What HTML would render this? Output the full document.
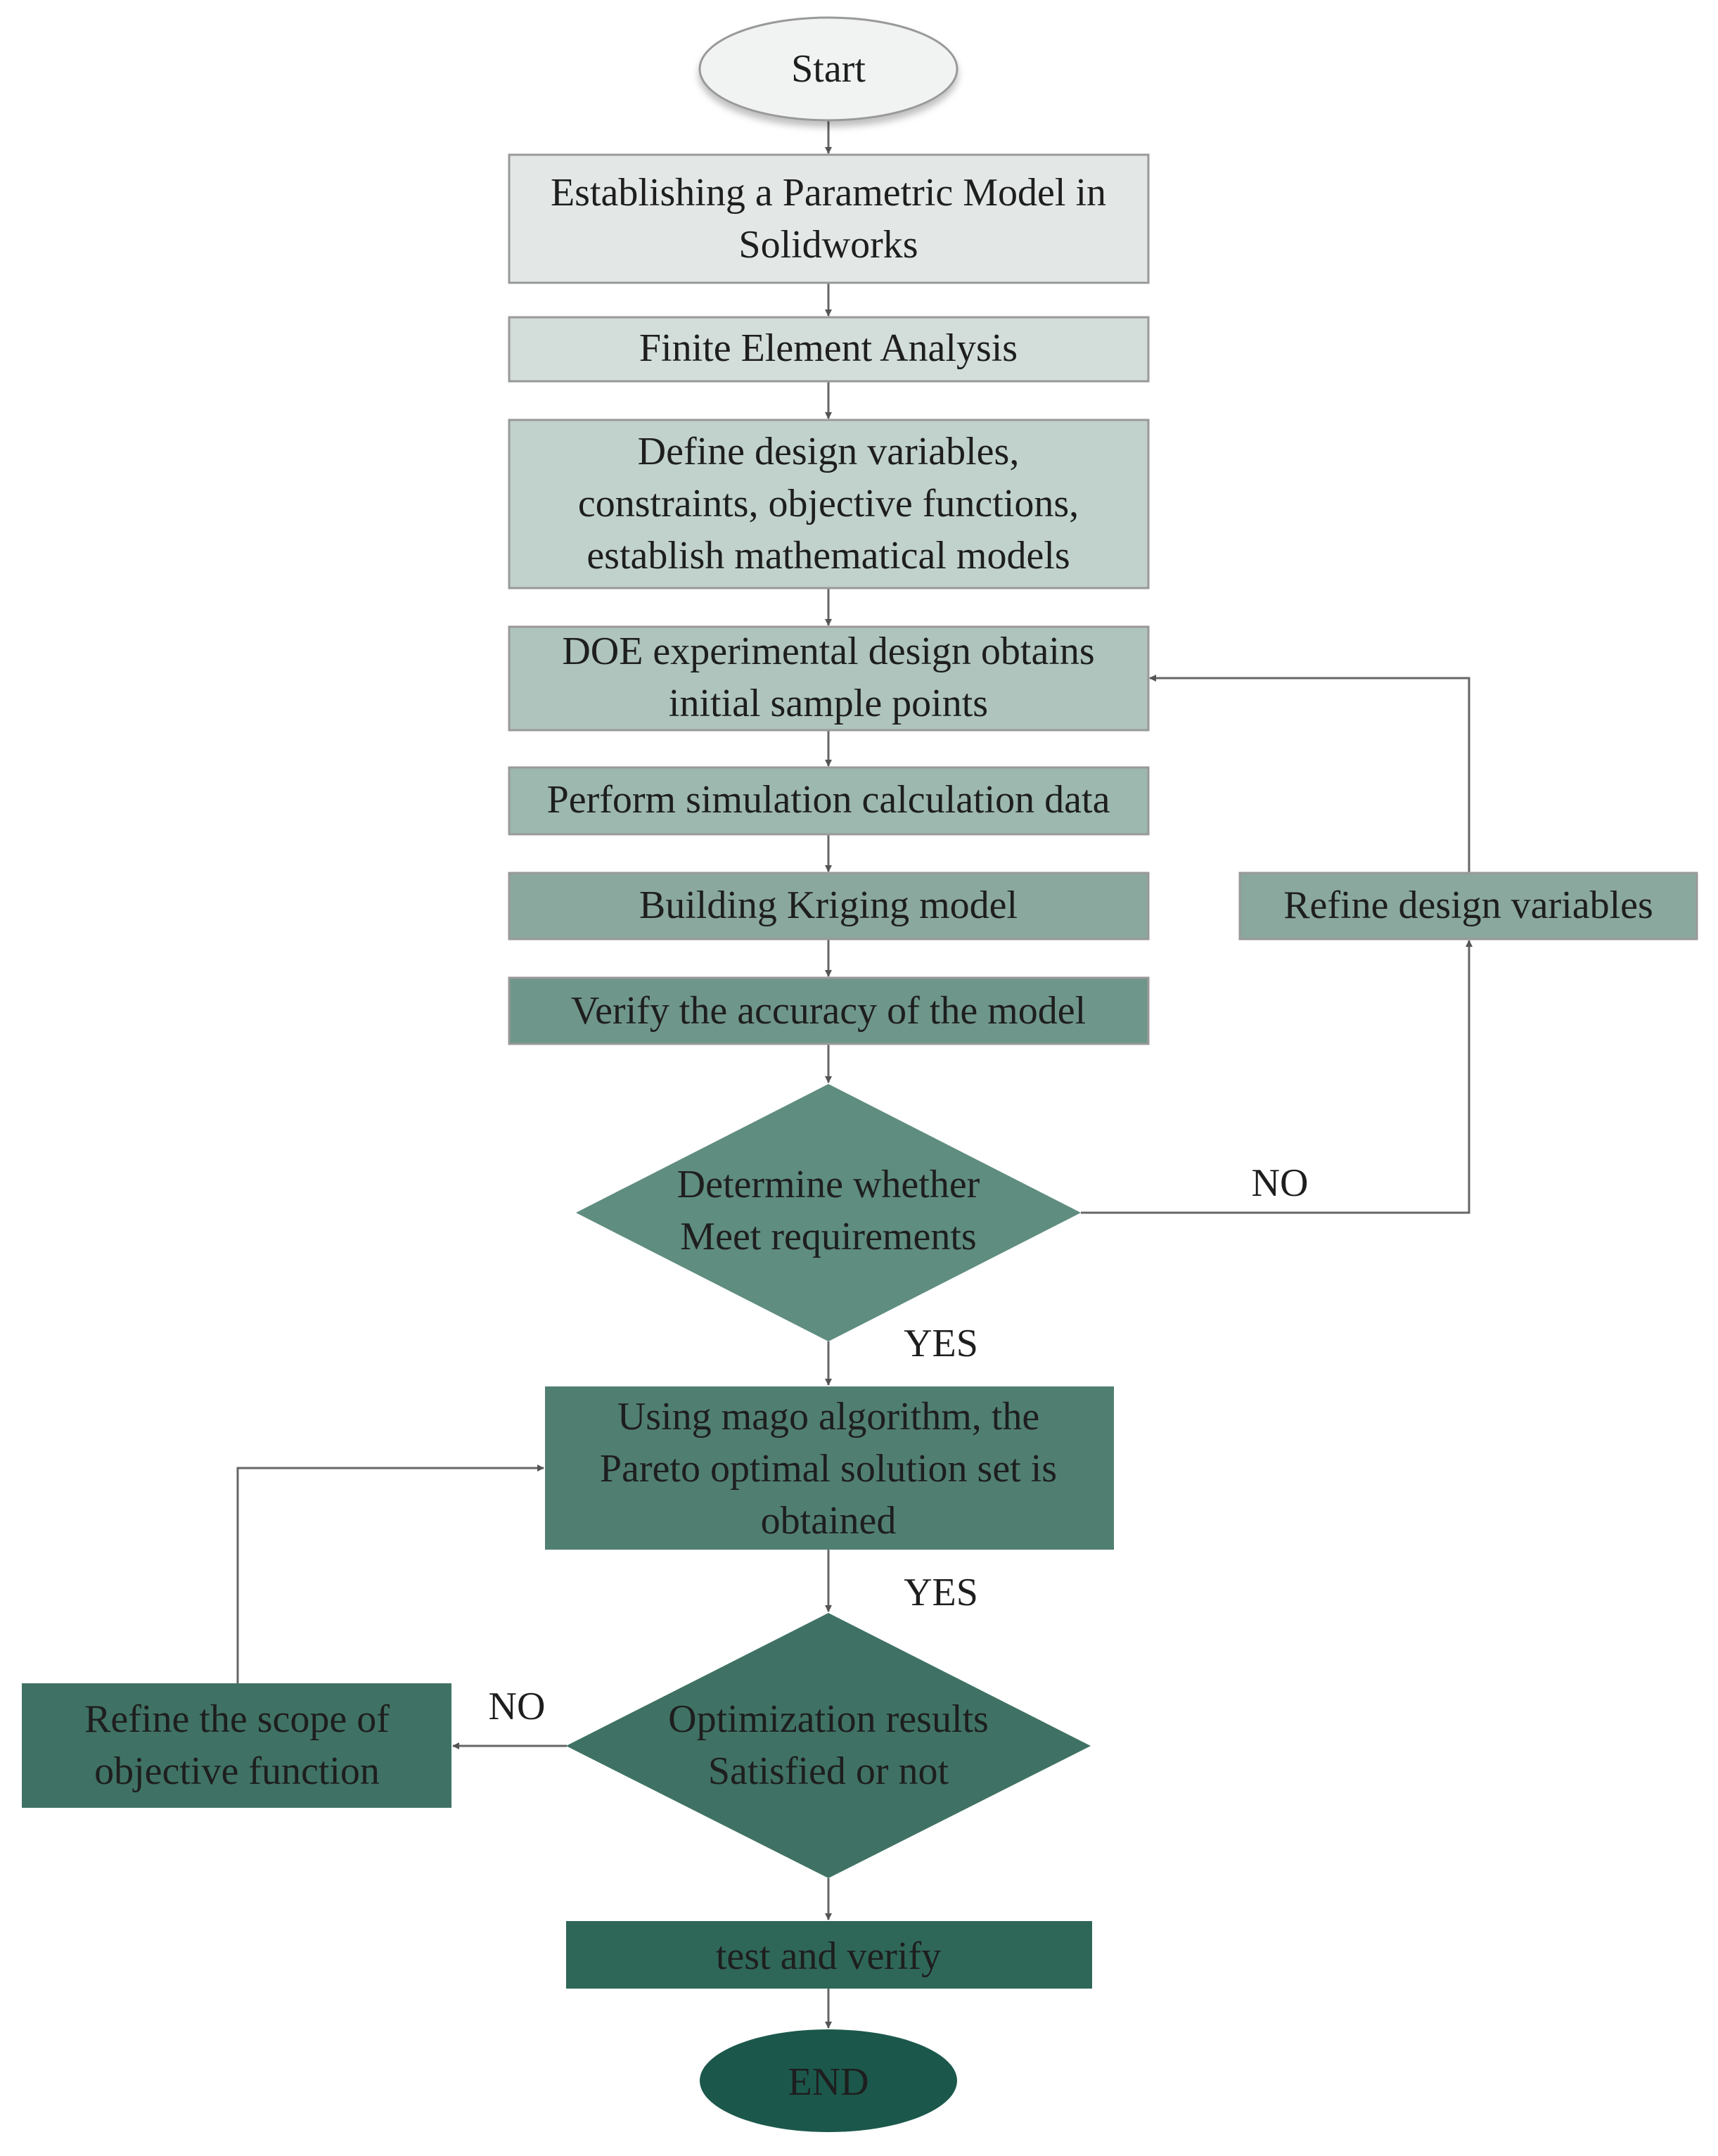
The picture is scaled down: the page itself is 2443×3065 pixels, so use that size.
<!DOCTYPE html>
<html><head><meta charset="utf-8"><style>
html,body{margin:0;padding:0;background:#fff;}
svg{display:block;}
text{font-family:"Liberation Serif",serif;font-size:56px;fill:#1e1e1e;text-anchor:middle;}
</style></head><body>
<svg width="2443" height="3065" viewBox="0 0 2443 3065" xmlns="http://www.w3.org/2000/svg">
<defs>
<marker id="a" markerWidth="10" markerHeight="10" refX="9" refY="5" orient="auto" markerUnits="userSpaceOnUse" viewBox="0 0 10 10">
<path d="M0,0 L10,5 L0,10 z" fill="#555"/></marker>
<filter id="sh" x="-10%" y="-10%" width="130%" height="140%"><feDropShadow dx="0" dy="8" stdDeviation="5" flood-color="#000" flood-opacity="0.25"/></filter>
</defs>
<g stroke="#666" stroke-width="3" fill="none">
<line x1="1178" y1="171" x2="1178" y2="218" marker-end="url(#a)"/>
<line x1="1178" y1="402" x2="1178" y2="449" marker-end="url(#a)"/>
<line x1="1178" y1="542" x2="1178" y2="595" marker-end="url(#a)"/>
<line x1="1178" y1="836" x2="1178" y2="889" marker-end="url(#a)"/>
<line x1="1178" y1="1038" x2="1178" y2="1089" marker-end="url(#a)"/>
<line x1="1178" y1="1186" x2="1178" y2="1239" marker-end="url(#a)"/>
<line x1="1178" y1="1335" x2="1178" y2="1388" marker-end="url(#a)"/>
<line x1="1178" y1="1484" x2="1178" y2="1539" marker-end="url(#a)"/>
<line x1="1178" y1="1907" x2="1178" y2="1969" marker-end="url(#a)"/>
<line x1="1178" y1="2203" x2="1178" y2="2291" marker-end="url(#a)"/>
<line x1="1178" y1="2670" x2="1178" y2="2729" marker-end="url(#a)"/>
<line x1="1178" y1="2827" x2="1178" y2="2883" marker-end="url(#a)"/>
<polyline points="1537,1724 2089,1724 2089,1337" marker-end="url(#a)"/>
<polyline points="2089,1241 2089,964 1635,964" marker-end="url(#a)"/>
<line x1="806" y1="2482" x2="644" y2="2482" marker-end="url(#a)"/>
<polyline points="338,2393 338,2087 773,2087" marker-end="url(#a)"/>
</g>
<ellipse cx="1178" cy="98" rx="183" ry="73" fill="#f1f3f2" stroke="#999" stroke-width="3" filter="url(#sh)"/>
<text x="1178" y="116">Start</text>
<g stroke="#999" stroke-width="3">
<rect x="724" y="220" width="909" height="182" fill="#e3e8e6"/>
<rect x="724" y="451" width="909" height="91" fill="#d3ddd9"/>
<rect x="724" y="597" width="909" height="239" fill="#c1d2cc"/>
<rect x="724" y="891" width="909" height="147" fill="#aec4bc"/>
<rect x="724" y="1091" width="909" height="95" fill="#9db8ae"/>
<rect x="724" y="1241" width="909" height="94" fill="#8aa89d"/>
<rect x="724" y="1390" width="909" height="94" fill="#6f968a"/>
<rect x="1763" y="1241" width="650" height="94" fill="#8aa89d"/>
</g>
<polygon points="1178,1541 1537,1724 1178,1907 819,1724" fill="#5f8d7f"/>
<rect x="775" y="1971" width="809" height="232" fill="#507f71"/>
<polygon points="1178,2293 1551,2482 1178,2670 805,2482" fill="#3f7264"/>
<rect x="31" y="2393" width="611" height="177" fill="#3f7264"/>
<rect x="805" y="2731" width="748" height="96" fill="#2e6758"/>
<ellipse cx="1178" cy="2958" rx="183" ry="73" fill="#1b584b"/>
<text x="1178" y="292">Establishing a Parametric Model in</text>
<text x="1178" y="366">Solidworks</text>
<text x="1178" y="513">Finite Element Analysis</text>
<text x="1178" y="660">Define design variables,</text>
<text x="1178" y="734">constraints,  objective functions,</text>
<text x="1178" y="808">establish mathematical models</text>
<text x="1178" y="944">DOE experimental design obtains</text>
<text x="1178" y="1018">initial sample points</text>
<text x="1178" y="1155">Perform simulation calculation data</text>
<text x="1178" y="1305">Building Kriging model</text>
<text x="1178" y="1455">Verify the accuracy of the model</text>
<text x="2088" y="1305">Refine design variables</text>
<text x="1178" y="1702">Determine whether</text>
<text x="1178" y="1776">Meet requirements</text>
<text x="1820" y="1700">NO</text>
<text x="1338" y="1928">YES</text>
<text x="1178" y="2032">Using mago algorithm, the</text>
<text x="1178" y="2106">Pareto optimal solution set is</text>
<text x="1178" y="2180">obtained</text>
<text x="1338" y="2282">YES</text>
<text x="1178" y="2462">Optimization results</text>
<text x="1178" y="2536">Satisfied or not</text>
<text x="735" y="2444">NO</text>
<text x="337" y="2462">Refine the scope of</text>
<text x="337" y="2536">objective function</text>
<text x="1178" y="2799">test and verify</text>
<text x="1178" y="2978">END</text>
</svg>
</body></html>
